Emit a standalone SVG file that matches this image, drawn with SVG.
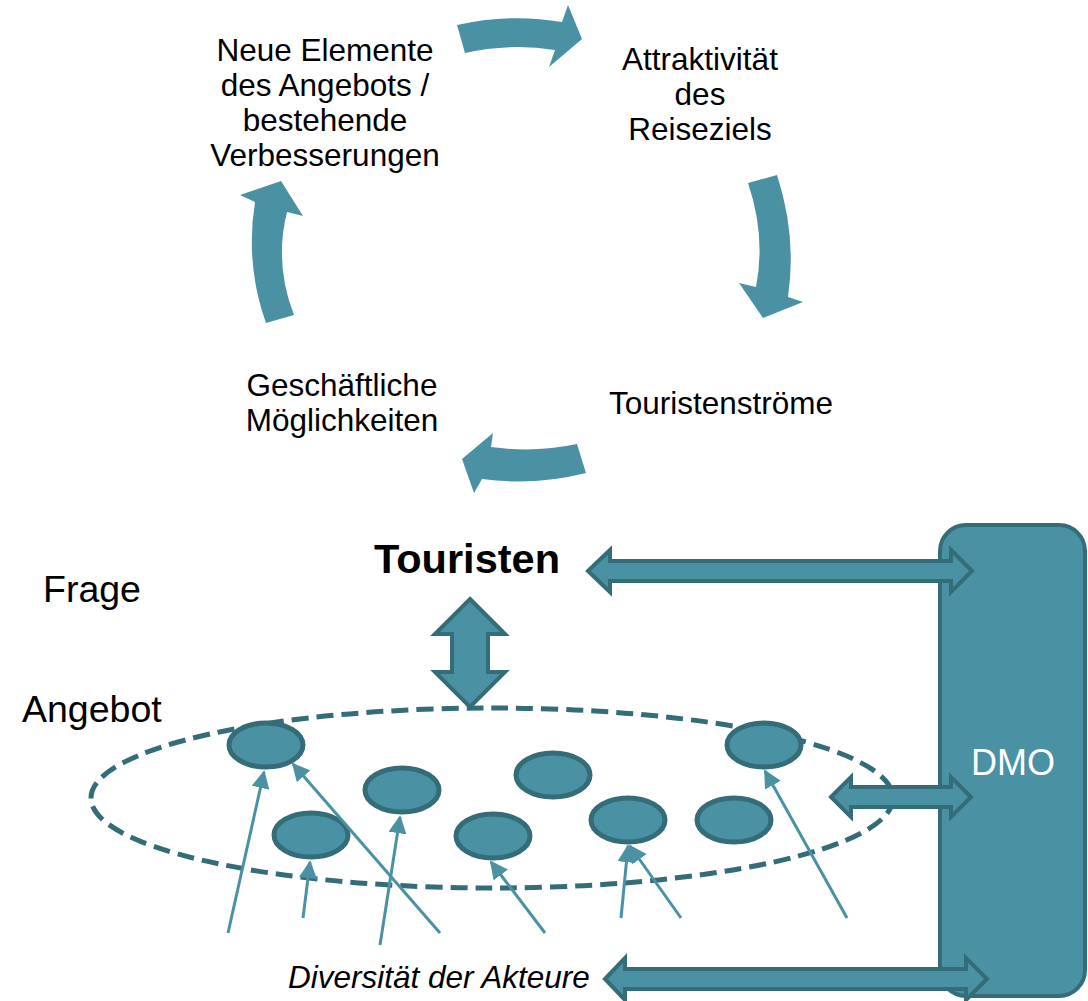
<svg xmlns="http://www.w3.org/2000/svg" width="1088" height="1001" viewBox="0 0 1088 1001">
  <style>
    .lbl { font-family: "Liberation Sans", Arial, sans-serif; font-size: 31.5px; fill: #000; }
    .mid { text-anchor: middle; }
    .big { font-size: 37.5px; }
    .cycle { fill: #4A91A4; }
    .block { fill: #4A91A4; stroke: #346C78; stroke-width: 4; stroke-linejoin: miter; }
    .actor { fill: #4A91A4; stroke: #346C78; stroke-width: 5; }
    .feed { stroke: #4A91A4; stroke-width: 3; fill: none; marker-end: url(#tip); }
  </style>
  <defs>
    <marker id="tip" viewBox="0 0 10 10" refX="9" refY="5" markerWidth="6" markerHeight="6" markerUnits="strokeWidth" orient="auto">
      <path d="M0,0 L10,5 L0,10 Z" fill="#4A91A4"/>
    </marker>
  </defs>

  <rect width="1088" height="1001" fill="#fff"/>

  <!-- DMO column -->
  <g id="dmo">
    <rect x="940" y="525" width="145" height="471" rx="26" ry="26" fill="#4A91A4" stroke="#346C78" stroke-width="4"/>
    <text x="1013" y="775" class="lbl mid" style="fill:#fff;font-size:36px">DMO</text>
  </g>

  <!-- cycle labels -->
  <g id="neue-elemente">
    <text class="lbl mid" x="325" y="61">Neue Elemente</text>
    <text class="lbl mid" x="325" y="96">des Angebots /</text>
    <text class="lbl mid" x="325" y="131">bestehende</text>
    <text class="lbl mid" x="325" y="166">Verbesserungen</text>
  </g>
  <g id="attraktivitaet">
    <text class="lbl mid" x="700" y="70">Attraktivität</text>
    <text class="lbl mid" x="700" y="105">des</text>
    <text class="lbl mid" x="700" y="140">Reiseziels</text>
  </g>
  <g id="touristenstroeme">
    <text class="lbl mid" x="721" y="414">Touristenströme</text>
  </g>
  <g id="moeglichkeiten">
    <text class="lbl mid" x="342" y="396">Geschäftliche</text>
    <text class="lbl mid" x="342" y="431">Möglichkeiten</text>
  </g>

  <!-- demand / supply side -->
  <g id="touristen">
    <text class="lbl" x="374" y="573" style="font-size:41.5px;font-weight:bold">Touristen</text>
  </g>
  <g id="frage">
    <text class="lbl big" x="43" y="602">Frage</text>
  </g>
  <g id="angebot">
    <text class="lbl big" x="22" y="722">Angebot</text>
  </g>
  <g id="akteure">
    <text class="lbl" x="288" y="988" style="font-style:italic">Diversität der Akteure</text>
  </g>

  <!-- supply area -->
  <g id="angebot-bereich">
    <ellipse cx="492" cy="798" rx="401" ry="90" fill="none" stroke="#346C78" stroke-width="5" stroke-dasharray="17 8"/>
  </g>

  <!-- individual suppliers -->
  <g id="anbieter">
    <ellipse class="actor" cx="266" cy="745" rx="37" ry="22"/>
    <ellipse class="actor" cx="311" cy="835" rx="37" ry="22"/>
    <ellipse class="actor" cx="402" cy="790" rx="37" ry="22"/>
    <ellipse class="actor" cx="493" cy="836" rx="37" ry="22"/>
    <ellipse class="actor" cx="553" cy="775" rx="37" ry="22"/>
    <ellipse class="actor" cx="628" cy="820" rx="37" ry="22"/>
    <ellipse class="actor" cx="734" cy="820" rx="37" ry="22"/>
    <ellipse class="actor" cx="764" cy="745" rx="37" ry="22"/>
  </g>

  <!-- connectors -->
  <g id="connectors">
    <!-- circular flow -->
    <path class="cycle" d="M457,25 Q510,13 562,22 L568,5 L582,39 L549,67 L555,50 Q510,43 465,53 Z"/>
    <path class="cycle" d="M748,183 L777,175 Q797,236 788,297 L803,302 L763,318 L739,283 L756,287 Q766,236 748,183 Z"/>
    <path class="cycle" d="M577,444 L586,473 Q535,486 482,479 L474,493 L462,459 L493,433 L491,447 Q535,453 577,444 Z"/>
    <path class="cycle" d="M266,323 L294,315 Q274,264 287,212 L303,216 L281,181 L240,195 L255,202 Q245,264 266,323 Z"/>

    <!-- two-way exchanges -->
    <path class="block" d="M588,571 L610,550 L610,561 L951,561 L951,550 L972,571 L951,592 L951,581 L610,581 L610,592 Z"/>
    <path class="block" d="M470,599 L505,634 L488,634 L488,672 L505,672 L470,707 L435,672 L452,672 L452,634 L435,634 Z"/>
    <path class="block" d="M831,797 L851,777 L851,787 L951,787 L951,777 L971,797 L951,817 L951,807 L851,807 L851,817 Z"/>
    <path class="block" d="M605,979 L625,958 L625,969 L966,969 L966,958 L987,979 L966,1000 L966,989 L625,989 L625,1000 Z"/>

    <!-- actors feeding suppliers -->
    <line class="feed" x1="228" y1="933" x2="264" y2="772"/>
    <line class="feed" x1="303" y1="918" x2="310" y2="862"/>
    <line class="feed" x1="380" y1="945" x2="400" y2="817"/>
    <line class="feed" x1="440" y1="933" x2="293" y2="764"/>
    <line class="feed" x1="545" y1="933" x2="491" y2="862"/>
    <line class="feed" x1="621" y1="918" x2="628" y2="846"/>
    <line class="feed" x1="681" y1="918" x2="630" y2="846"/>
    <line class="feed" x1="847" y1="918" x2="765" y2="771"/>
  </g>
</svg>
